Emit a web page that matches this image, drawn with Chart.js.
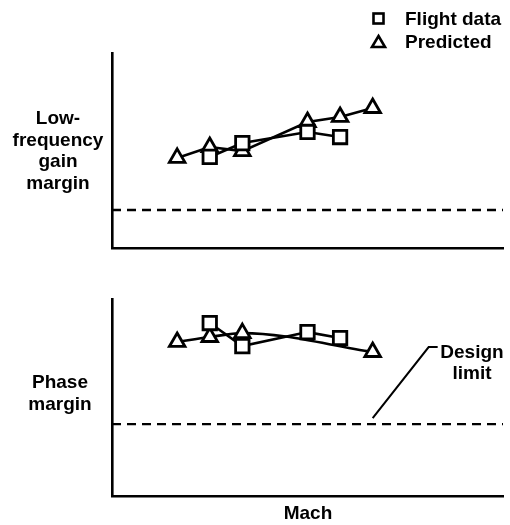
<!DOCTYPE html>
<html>
<head>
<meta charset="utf-8">
<script src="https://cdn.jsdelivr.net/npm/chart.js@4/dist/chart.umd.min.js"></script>
<style>
  body { margin: 0; background: #fff; }
  #wrap { position: relative; width: 510px; height: 525px; font-family: "Liberation Sans", Arial, sans-serif; font-weight: bold; font-size: 19px; color: #000; }
  canvas { position: absolute; left: 0; top: 0; }
  .lbl { position: absolute; text-align: center; white-space: nowrap; }
</style>
</head>
<body>
<div id="wrap">
  <canvas id="gainChart" width="510" height="525"></canvas>
  <canvas id="phaseChart" width="510" height="525"></canvas>
  <div class="lbl" style="left:0;width:116px;top:107px;line-height:21.7px;">Low-<br>frequency<br>gain<br>margin</div>
  <div class="lbl" style="left:0;width:120px;top:371px;line-height:22px;">Phase<br>margin</div>
  <div class="lbl" style="left:258px;width:100px;top:502px;line-height:22px;">Mach</div>
  <div class="lbl" style="left:405px;top:8px;line-height:22px;text-align:left;">Flight data</div>
  <div class="lbl" style="left:405px;top:31px;line-height:22px;text-align:left;">Predicted</div>
  <div class="lbl" style="left:432px;width:80px;top:341px;line-height:21px;">Design<br>limit</div>
</div>
<script>
// Mach numbers (axis has no tick labels, values are relative)
const machMin = 0.4;
const machMax = 1.6;
const gainFlightMach = [0.7, 0.8, 1.0, 1.1];
const gainFlight = [46.7, 53.8, 59.5, 56.9];
const gainPredMach = [0.6, 0.7, 0.8, 1.0, 1.1, 1.2];
const gainPred = [46.2, 51.8, 49.7, 64.6, 67.2, 71.8];
const gainLimit = 19.5;

const phaseFlightMach = [0.7, 0.8, 1.0, 1.1];
const phaseFlight = [87.8, 76.1, 83.2, 80.2];
const phasePredMach = [0.6, 0.7, 0.8, 1.2];
const phasePred = [78.2, 80.7, 82.7, 73.1];
const phaseLimit = 36.5;

const pts = (xs, ys) => xs.map((x, i) => ({ x: x, y: ys[i] }));

function makeOptions(pad) {
  return {
    responsive: false,
    animation: false,
    layout: { padding: pad, autoPadding: false },
    plugins: { legend: { display: false }, tooltip: { enabled: false } },
    scales: {
      x: {
        type: 'linear', min: machMin, max: machMax,
        grid: { display: false },
        ticks: { display: false },
        border: { display: true, color: '#000', width: 2.6 },
        afterFit: s => { s.height = 0; }
      },
      y: {
        min: 0, max: 100,
        grid: { display: false },
        ticks: { display: false },
        border: { display: true, color: '#000', width: 2.6 },
        afterFit: s => { s.width = 0; }
      }
    }
  };
}

function flightSet(data) {
  return {
    data: data, borderColor: '#000', borderWidth: 2.6, backgroundColor: '#fff',
    pointStyle: 'rect', pointRadius: 9.5, pointBorderWidth: 2.8, pointBackgroundColor: '#fff',
    tension: 0, clip: false
  };
}
function predSet(data, smooth) {
  return {
    data: data, borderColor: '#000', borderWidth: 2.6, backgroundColor: '#fff',
    pointStyle: 'triangle', pointRadius: 9, pointBorderWidth: 2.8, pointBackgroundColor: '#fff',
    tension: smooth ? 0.4 : 0, cubicInterpolationMode: smooth ? 'monotone' : 'default', clip: false
  };
}
function limitSet(y) {
  return {
    data: [{ x: machMin, y: y }, { x: machMax, y: y }],
    borderColor: '#000', borderWidth: 2.4, borderDash: [9, 6], pointRadius: 0, fill: false
  };
}

// legend markers in the top right corner
const legendMarks = {
  id: 'legendMarks',
  afterDraw(chart) {
    const ctx = chart.ctx;
    ctx.save();
    ctx.strokeStyle = '#000';
    ctx.lineWidth = 2.6;
    ctx.strokeRect(373.5, 13.5, 10, 10);
    ctx.beginPath();
    ctx.moveTo(378.5, 36);
    ctx.lineTo(385, 47);
    ctx.lineTo(372, 47);
    ctx.closePath();
    ctx.stroke();
    ctx.restore();
  }
};

// leader line from the dashed line to the "Design limit" text
const leader = {
  id: 'leader',
  afterDraw(chart) {
    const ctx = chart.ctx;
    const x0 = chart.scales.x.getPixelForValue(1.2);
    const y0 = chart.scales.y.getPixelForValue(phaseLimit) - 6;
    ctx.save();
    ctx.strokeStyle = '#000';
    ctx.lineWidth = 2;
    ctx.beginPath();
    ctx.moveTo(x0, y0);
    ctx.lineTo(x0 + 56, y0 - 71);
    ctx.lineTo(x0 + 65, y0 - 71);
    ctx.stroke();
    ctx.restore();
  }
};

new Chart(document.getElementById('gainChart'), {
  type: 'line',
  data: {
    datasets: [
      limitSet(gainLimit),
      flightSet(pts(gainFlightMach, gainFlight)),
      predSet(pts(gainPredMach, gainPred), false)
    ]
  },
  options: makeOptions({ left: 112, top: 53, right: 7, bottom: 277 }),
  plugins: [legendMarks]
});

new Chart(document.getElementById('phaseChart'), {
  type: 'line',
  data: {
    datasets: [
      limitSet(phaseLimit),
      flightSet(pts(phaseFlightMach, phaseFlight)),
      predSet(pts(phasePredMach, phasePred), true)
    ]
  },
  options: makeOptions({ left: 112, top: 299, right: 7, bottom: 29 }),
  plugins: [leader]
});
</script>
</body>
</html>
